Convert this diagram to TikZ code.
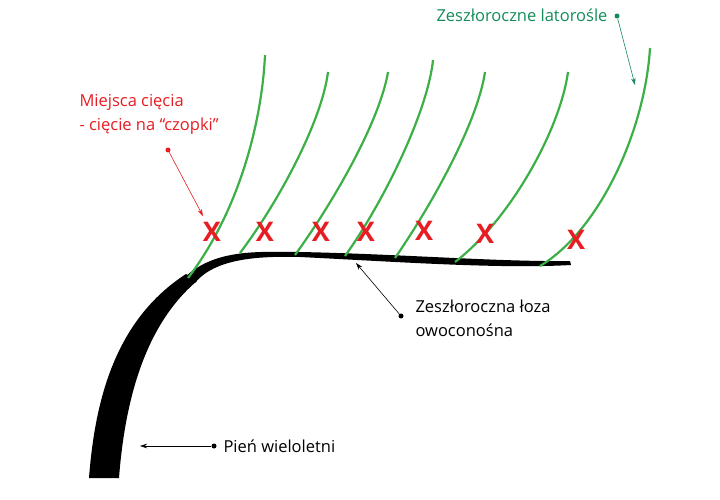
\documentclass[tikz,border=0pt]{standalone}
\usepackage{fontspec}
\setmainfont{Open Sans}
\usetikzlibrary{arrows.meta}
\definecolor{shoot}{RGB}{60,175,70}
\definecolor{lbl}{RGB}{20,140,90}
\definecolor{cut}{RGB}{230,30,35}
\begin{document}
\begin{tikzpicture}[x=1pt,y=-1pt,
  sh/.style={draw=shoot,line width=2.2pt},
  xm/.style={text=cut,font=\fontsize{27}{27}\selectfont\bfseries},
  txt/.style={font=\fontsize{16.5}{24}\selectfont,anchor=west,align=left},
  dot/.style={circle,fill,inner sep=0pt,minimum size=5pt},
  arr/.style={-{Stealth[length=7pt,width=4.5pt]},line width=0.6pt}]
\useasboundingbox (0,0) rectangle (720,500);
% trunk
\fill (89,478) .. controls (95,400) and (115,320) .. (186,274)
  -- (197,281) .. controls (145,325) and (125,400) .. (119,478) -- cycle;
% cane
\fill (184,278) .. controls (215,248) and (260,252) .. (300,252)
  .. controls (400,254) and (500,262) .. (570,261)
  -- (571,265) .. controls (500,269) and (400,262) .. (300,257)
  .. controls (260,256) and (215,258) .. (195,283) -- cycle;
% shoots
\draw[sh] (188,278) .. controls (240,210) and (262,120) .. (265,55);
\draw[sh] (240,253) .. controls (280,200) and (322,120) .. (328,72);
\draw[sh] (295,255) .. controls (335,200) and (380,120) .. (388,72);
\draw[sh] (345,256) .. controls (385,200) and (428,110) .. (433,60);
\draw[sh] (395,258) .. controls (435,200) and (478,120) .. (485,72);
\draw[sh] (455,262) .. controls (510,220) and (560,130) .. (568,72);
\draw[sh] (540,266) .. controls (600,230) and (645,130) .. (650,48);
% cuts
\foreach \i/\x/\y in {1/212/232,2/265/232,3/321/232,4/366/232,5/424/231,6/485/234,7/576/240}
  \node[xm] (x\i) at (\x,\y) {X};
% labels
\node[txt,text=cut] (l1) at (76,114) {Miejsca cięcia\\- cięcie na “czopki”};
\node[dot,fill=cut] (d1) at (168,150) {};
\coordinate (t1) at (203,216);
\draw[arr,draw=cut] (d1) -- (t1);
\node[txt,text=lbl,anchor=east] (l2) at (611,15) {Zeszłoroczne latorośle};
\node[dot,fill=lbl] (d2) at (617,16) {};
\coordinate (t2) at (635,85);
\draw[arr,draw=lbl] (d2) -- (t2);
\node[txt] (l3) at (412,318) {Zeszłoroczna łoza\\owoconośna};
\node[dot] (d3) at (401,316) {};
\coordinate (t3) at (356,263);
\draw[arr] (d3) -- (t3);
\node[txt] (l4) at (220,446) {Pień wieloletni};
\node[dot] (d4) at (214,446) {};
\coordinate (t4) at (140,446);
\draw[arr] (d4) -- (t4);
\end{tikzpicture}
\end{document}
